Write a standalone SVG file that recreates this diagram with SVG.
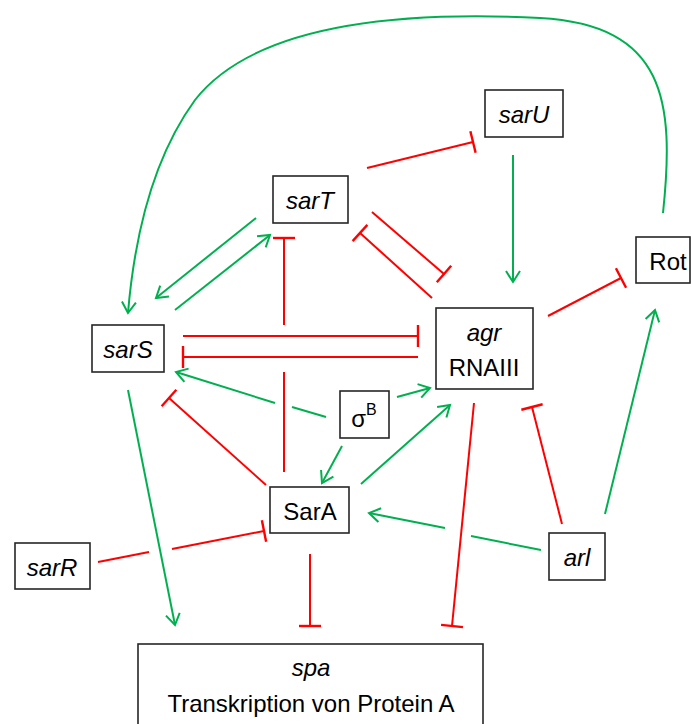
<svg xmlns="http://www.w3.org/2000/svg" width="691" height="724" viewBox="0 0 691 724">
<style>
.box{fill:#fff;stroke:#262626;stroke-width:1.6}
.t{font-family:"Liberation Sans",Arial,sans-serif;font-size:24px;fill:#000;text-anchor:middle;dominant-baseline:central}
.i{font-style:italic}
.g{stroke:#00B050;stroke-width:2;fill:none}
.r{stroke:#FF0000;stroke-width:2;fill:none}
.ga{marker-end:url(#ag)}
.rt{marker-end:url(#tr)}
</style>
<defs>
<marker id="ag" markerUnits="userSpaceOnUse" orient="auto" refX="0" refY="0" markerWidth="30" markerHeight="30" overflow="visible"><path d="M-11,-7 L0,0 L-11,7" fill="none" stroke="#00B050" stroke-width="2"/></marker>
<marker id="tr" markerUnits="userSpaceOnUse" orient="auto" refX="0" refY="0" markerWidth="30" markerHeight="30" overflow="visible"><path d="M0,-11 L0,11" fill="none" stroke="#FF0000" stroke-width="2.4"/></marker>
</defs>
<g id="connectors">
<path class="g ga" d="M663,213 C675,100 665,25 540,18 C380,10 250,30 195,100 C155,155 135,230 128,313"/>
<line class="g ga" x1="256" y1="218" x2="156" y2="298"/>
<line class="g ga" x1="175" y1="310" x2="270" y2="235"/>
<line class="g ga" x1="513" y1="155" x2="513" y2="282"/>
<line class="g" x1="326" y1="417" x2="292" y2="407"/>
<line class="g ga" x1="275" y1="403" x2="176" y2="372"/>
<line class="g ga" x1="342" y1="446" x2="322" y2="483"/>
<line class="g ga" x1="397" y1="397" x2="430" y2="388"/>
<line class="g ga" x1="361" y1="484" x2="450" y2="405"/>
<line class="g" x1="541" y1="550" x2="471" y2="536"/>
<line class="g ga" x1="445" y1="528" x2="369" y2="513"/>
<line class="g ga" x1="605" y1="514" x2="655" y2="310"/>
<line class="g ga" x1="128" y1="390" x2="175" y2="625"/>
<line class="r rt" x1="367" y1="168" x2="473" y2="142"/>
<line class="r rt" x1="372" y1="212" x2="444" y2="274"/>
<line class="r rt" x1="432" y1="298" x2="360" y2="233"/>
<line class="r rt" x1="284" y1="325" x2="284" y2="238"/>
<line class="r" x1="284" y1="472" x2="284" y2="372"/>
<line class="r rt" x1="183" y1="336" x2="418" y2="336"/>
<line class="r rt" x1="418" y1="357" x2="183" y2="357"/>
<line class="r rt" x1="266" y1="485" x2="169" y2="398"/>
<line class="r rt" x1="548" y1="316" x2="621" y2="278"/>
<line class="r rt" x1="562" y1="524" x2="532" y2="407"/>
<line class="r rt" x1="474" y1="403" x2="452" y2="626"/>
<line class="r rt" x1="310" y1="554" x2="310" y2="626"/>
<line class="r" x1="98" y1="562" x2="149" y2="552"/>
<line class="r rt" x1="172" y1="549" x2="264" y2="531"/>
</g>
<g id="sarU"><rect class="box" x="485" y="90" width="78" height="47"/><text class="t i" x="524" y="114">sarU</text></g>
<g id="sarT"><rect class="box" x="273" y="176" width="75" height="47"/><text class="t i" x="310" y="200">sarT</text></g>
<g id="sarS"><rect class="box" x="92" y="325" width="72" height="47"/><text class="t i" x="128" y="349">sarS</text></g>
<g id="agr"><rect class="box" x="436" y="308" width="97" height="81"/><text class="t i" x="484" y="332">agr</text><text class="t" x="484" y="367">RNAIII</text></g>
<g id="Rot"><rect class="box" x="636" y="237" width="54" height="46"/><text class="t" x="668" y="261">Rot</text></g>
<g id="sigmaB"><rect class="box" x="340" y="391" width="49" height="47"/><text class="t" x="364" y="418">σ<tspan font-size="16" dy="-9">B</tspan></text></g>
<g id="SarA"><rect class="box" x="270" y="487" width="79" height="46"/><text class="t" x="310" y="511">SarA</text></g>
<g id="sarR"><rect class="box" x="15" y="543" width="75" height="46"/><text class="t i" x="52" y="567">sarR</text></g>
<g id="arl"><rect class="box" x="549" y="533" width="56" height="47"/><text class="t i" x="577" y="557">arl</text></g>
<g id="spa"><rect class="box" x="138" y="644" width="345" height="90"/><text class="t i" x="311" y="667">spa</text><text class="t" x="311" y="703" font-size="25">Transkription von Protein A</text></g>
</svg>
